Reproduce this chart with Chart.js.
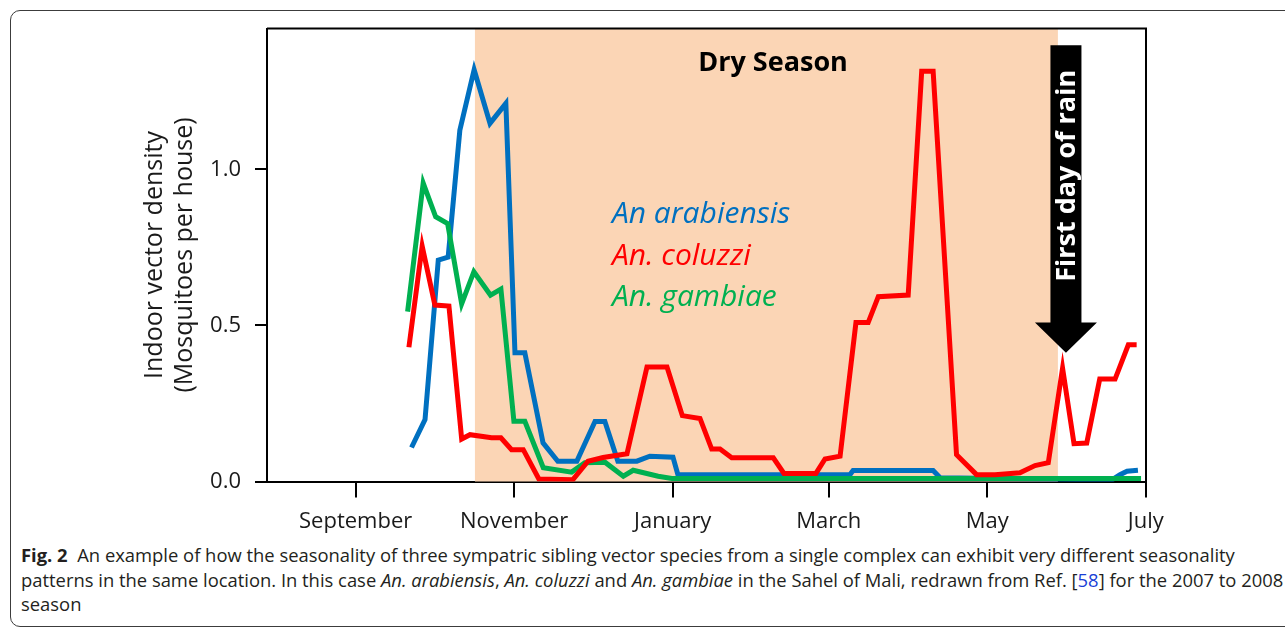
<!DOCTYPE html>
<html>
<head>
<meta charset="utf-8">
<script src="https://cdn.jsdelivr.net/npm/chart.js@4.4.6/dist/chart.umd.min.js"></script>
<style>
  html, body { margin: 0; padding: 0; background: #fff; }
  body { width: 1285px; height: 628px; position: relative; overflow: hidden; }
  #frame {
    position: absolute; left: 10px; top: 10px; width: 1300px; height: 617px;
    border: 1.5px solid #3c3c3c; border-radius: 10px; box-sizing: border-box;
  }
  #wrap { position: absolute; left: 0; top: 0; width: 1285px; height: 540px; }
  #caption {
    position: absolute; left: 21px; top: 543px; white-space: nowrap;
    font-family: "Open Sans", sans-serif; font-size: 18.4px; line-height: 24.5px; color: #231f20;
  }
  #caption b { font-weight: 700; }
  #caption .ref { color: #1a3fd6; }
</style>
</head>
<body>
<div id="frame"></div>
<div id="wrap"><canvas id="chart" width="1285" height="540"></canvas></div>
<div id="caption"><b>Fig. 2</b>&nbsp; An example of how the seasonality of three sympatric sibling vector species from a single complex can exhibit very different seasonality<br>patterns in the same location. In this case <i>An. arabiensis</i>, <i>An. coluzzi</i> and <i>An. gambiae</i> in the Sahel of Mali, redrawn from Ref. [<span class="ref">58</span>] for the 2007 to 2008<br>season</div>
<script>
// x values are days since 1 September 2007
const xTickDays = [0, 61, 122, 182, 243, 304];
const xTickLabels = ['September', 'November', 'January', 'March', 'May', 'July'];
const yTickValues = [0, 0.5, 1.0];

const arabiensisDays = [21.5, 26.7, 31.8, 35.6, 40.1, 45.6, 51.7, 57.8, 61.3, 65.1, 72.1, 77.8, 85.1, 92.1, 95.9, 100.9, 108.2, 113.2, 122.1, 124.0, 190.2, 191.4, 222.2, 224.9, 291.0, 294.1, 296.8, 301.0];
const arabiensisDensity = [0.109, 0.198, 0.709, 0.719, 1.125, 1.319, 1.147, 1.211, 0.412, 0.412, 0.124, 0.065, 0.065, 0.192, 0.192, 0.065, 0.065, 0.081, 0.078, 0.022, 0.022, 0.035, 0.035, 0.012, 0.005, 0.022, 0.033, 0.036];

const coluzziDays = [20.5, 25.6, 30.5, 35.9, 40.8, 44.0, 52.3, 55.9, 60.0, 64.5, 70.5, 83.6, 89.4, 95.2, 104.4, 112.1, 119.8, 125.7, 132.5, 137.0, 140.2, 144.7, 160.7, 164.8, 177.1, 180.6, 186.4, 192.5, 197.2, 201.1, 212.6, 217.8, 222.2, 231.2, 238.9, 246.0, 255.6, 261.4, 266.5, 272.0, 276.4, 281.3, 286.3, 292.2, 297.3, 300.5];
const coluzziDensity = [0.430, 0.754, 0.565, 0.562, 0.136, 0.150, 0.140, 0.140, 0.102, 0.102, 0.008, 0.006, 0.065, 0.077, 0.089, 0.367, 0.367, 0.211, 0.202, 0.104, 0.104, 0.076, 0.076, 0.026, 0.026, 0.072, 0.081, 0.509, 0.509, 0.592, 0.597, 1.314, 1.314, 0.086, 0.022, 0.022, 0.028, 0.051, 0.060, 0.363, 0.121, 0.123, 0.328, 0.328, 0.438, 0.438];

const gambiaeDays = [20.0, 26.0, 30.8, 35.4, 40.8, 45.5, 51.9, 55.9, 60.9, 65.1, 72.2, 83.1, 88.2, 95.9, 103.0, 106.8, 116.4, 121.7, 302.2];
const gambiaeDensity = [0.544, 0.956, 0.848, 0.826, 0.569, 0.672, 0.597, 0.616, 0.193, 0.193, 0.044, 0.030, 0.060, 0.062, 0.017, 0.036, 0.017, 0.010, 0.010];

const drySeason = [45.9, 270.2];
const rainDay = 273.3;

const FONT = '"Open Sans", sans-serif';
const pairs = (xs, ys) => xs.map((x, i) => ({ x, y: ys[i] }));

const annotations = {
  id: 'annotations',
  beforeDatasetsDraw(chart) {
    const { ctx, chartArea: a, scales: { x } } = chart;
    ctx.save();
    ctx.fillStyle = '#fbd5b5';
    const x0 = x.getPixelForValue(drySeason[0]);
    const x1 = x.getPixelForValue(drySeason[1]);
    ctx.fillRect(x0, a.top, x1 - x0, a.bottom - a.top);
    ctx.restore();
  },
  afterDatasetsDraw(chart) {
    const { ctx, chartArea: a, scales: { x, y } } = chart;
    ctx.save();
    // top and right frame
    ctx.strokeStyle = '#000';
    ctx.lineWidth = 2;
    ctx.beginPath();
    ctx.moveTo(a.left, a.top);
    ctx.lineTo(a.right, a.top);
    ctx.lineTo(a.right, a.bottom);
    ctx.stroke();

    ctx.fillStyle = '#000';
    ctx.font = `bold 27px ${FONT}`;
    ctx.textAlign = 'center';
    ctx.textBaseline = 'middle';
    ctx.fillText('Dry Season', x.getPixelForValue(160.6), y.getPixelForValue(1.341));

    ctx.font = `italic 30px ${FONT}`;
    ctx.textAlign = 'left';
    const lx = x.getPixelForValue(98.6);
    ctx.fillStyle = '#0070c0';
    ctx.fillText('An arabiensis', lx, y.getPixelForValue(0.855));
    ctx.fillStyle = '#ff0000';
    ctx.fillText('An. coluzzi', lx, y.getPixelForValue(0.720));
    ctx.fillStyle = '#00b050';
    ctx.fillText('An. gambiae', lx, y.getPixelForValue(0.589));

    // first-rain arrow
    const cx = x.getPixelForValue(rainDay);
    const top = y.getPixelForValue(1.397);
    const neck = y.getPixelForValue(0.509);
    const tip = y.getPixelForValue(0.412);
    ctx.fillStyle = '#000';
    ctx.beginPath();
    ctx.moveTo(cx - 15.5, top);
    ctx.lineTo(cx + 15.5, top);
    ctx.lineTo(cx + 15.5, neck);
    ctx.lineTo(cx + 31, neck);
    ctx.lineTo(cx, tip);
    ctx.lineTo(cx - 31, neck);
    ctx.lineTo(cx - 15.5, neck);
    ctx.closePath();
    ctx.fill();
    ctx.translate(cx, y.getPixelForValue(0.979));
    ctx.rotate(-Math.PI / 2);
    ctx.fillStyle = '#fff';
    ctx.font = `bold 27px ${FONT}`;
    ctx.textAlign = 'center';
    ctx.fillText('First day of rain', 0, 1);
    ctx.restore();
  },
};

new Chart(document.getElementById('chart'), {
  type: 'line',
  data: {
    datasets: [
      { label: 'An. coluzzi', data: pairs(coluzziDays, coluzziDensity), borderColor: '#ff0000', order: 0 },
      { label: 'An. gambiae', data: pairs(gambiaeDays, gambiaeDensity), borderColor: '#00b050', order: 1 },
      { label: 'An arabiensis', data: pairs(arabiensisDays, arabiensisDensity), borderColor: '#0070c0', order: 2 },
    ],
  },
  options: {
    responsive: false,
    animation: false,
    layout: { padding: { top: 28.5, right: 139, left: 0, bottom: 0 } },
    elements: {
      point: { radius: 0 },
      line: { borderWidth: 5, tension: 0, fill: false },
    },
    plugins: { legend: { display: false }, tooltip: { enabled: false } },
    scales: {
      x: {
        type: 'linear',
        min: -34.1,
        max: 304.1,
        afterBuildTicks: (s) => { s.ticks = xTickDays.map((v) => ({ value: v })); },
        afterFit: (s) => { s.height = 58.5; },
        ticks: {
          autoSkip: false, maxRotation: 0, padding: 11,
          color: '#1a1a1a', font: { family: FONT, size: 22 },
          callback: (v, i) => xTickLabels[i],
        },
        grid: { drawOnChartArea: false, tickLength: 16, color: '#000', lineWidth: 2 },
        border: { color: '#000', width: 2 },
      },
      y: {
        min: 0,
        max: 1.451,
        afterBuildTicks: (s) => { s.ticks = yTickValues.map((v) => ({ value: v })); },
        afterFit: (s) => { s.width = 267; },
        ticks: {
          padding: 14, color: '#1a1a1a', font: { family: FONT, size: 22 },
          callback: (v) => v.toFixed(1),
        },
        grid: { drawOnChartArea: false, tickLength: 12, color: '#000', lineWidth: 2 },
        border: { color: '#000', width: 2 },
        title: {
          display: true,
          text: ['Indoor vector density', '(Mosquitoes per house)'],
          color: '#1a1a1a',
          font: { family: FONT, size: 25, lineHeight: 1.2 },
          padding: { top: 140, bottom: 0 },
        },
      },
    },
  },
  plugins: [annotations],
});
</script>
</body>
</html>
